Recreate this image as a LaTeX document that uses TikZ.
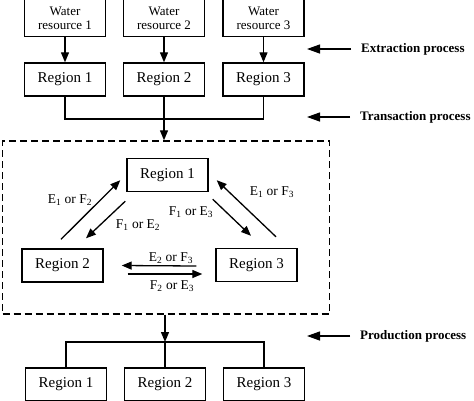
\documentclass[tikz,border=0pt]{standalone}
\usepackage{fontspec}
\setmainfont{Liberation Serif}
\usetikzlibrary{positioning}
\usetikzlibrary{arrows.meta}

\begin{document}
\begin{tikzpicture}[%
x=1pt, y=-1pt,
boks/.style={draw,line width=1.4pt,minimum width=81pt,minimum height=33pt,inner sep=1pt,font=\fontsize{15}{16}\selectfont},
kilde/.style={boks,minimum height=37pt,align=center,font=\fontsize{13}{14}\selectfont},
linje/.style={line width=1.3pt},
pil/.style={linje,-{Triangle[length=10pt,width=8pt]}},
prosesspil/.style={linje,-{Triangle[length=13pt,width=9pt]}},
etikett/.style={font=\fontsize{13.5}{14}\selectfont,inner sep=0pt},
prosess/.style={font=\bfseries\fontsize{13}{14}\selectfont,inner sep=0pt,anchor=west},
ramme/.style={draw,dash pattern=on 7pt off 4pt,line width=1.4pt,minimum width=327pt,minimum height=173pt}]
\useasboundingbox (0,0) rectangle (474,400);
\clip (0,0) rectangle (474,400);
\node [kilde] (w1) at (65,18)    {Water\\resource 1};
\node [kilde] (w2) at (164,18)   {Water\\resource 2};
\node [kilde] (w3) at (263.5,18) {Water\\resource 3};
\node [boks] (a1) at (65,79.5)    {Region 1};
\node [boks] (a2) at (164,79.5)   {Region 2};
\node [boks] (a3) at (263.5,79.5) {Region 3};
\draw [pil] (w1) -- (a1);
\draw [pil] (w2) -- (a2);
\draw [pil] (w3) -- (a3);
\coordinate (samle) at (164,119);
\node [ramme] (ramme) at (166,227.5) {};
\draw [linje] (a1) -- (a1 |- samle) -- (a3 |- samle) -- (a3);
\draw [pil]   (a2) -- (a2 |- ramme.north);
\node [boks] (m1) at (167.5,175) {Region 1};
\node [boks] (m2) at (62.5,265.5) {Region 2};
\node [boks] (m3) at (256.5,265) {Region 3};
\draw [pil] ([xshift=-1.5pt,yshift=9pt]m2.north)   -- ([xshift=-6pt,yshift=12pt]m1.south west);
\draw [pil] ([xshift=-1pt,yshift=-9pt]m1.south west) -- ([xshift=23.5pt,yshift=10pt]m2.north);
\draw [pil] ([xshift=4pt,yshift=-7pt]m1.south east)  -- ([xshift=-5.5pt,yshift=12pt]m3.north);
\draw [pil] ([xshift=19.5pt,yshift=11pt]m3.north)   -- ([xshift=8pt,yshift=12pt]m1.south east);
\draw [pil] ([xshift=-19pt,yshift=-1pt]m3.west)     -- ([xshift=18pt]m2.east);
\draw [pil] ([xshift=24pt,yshift=-8.5pt]m2.east)    -- ([xshift=-13pt,yshift=-9pt]m3.west);
\node [etikett] (e12) at (70,200)  {E\textsubscript{1} or F\textsubscript{2}};
\node [etikett] (f12) at (138,225) {F\textsubscript{1} or E\textsubscript{2}};
\node [etikett] (f13) at (191,212) {F\textsubscript{1} or E\textsubscript{3}};
\node [etikett] (e13) at (272,192) {E\textsubscript{1} or F\textsubscript{3}};
\node [etikett] (e23) at (171,258) {E\textsubscript{2} or F\textsubscript{3}};
\node [etikett] (f23) at (172,286) {F\textsubscript{2} or E\textsubscript{3}};
\coordinate (fordel) at (164,342);
\node [boks] (b1) at (66,384.5)  {Region 1};
\node [boks] (b2) at (165,384.5) {Region 2};
\node [boks] (b3) at (264,384.5) {Region 3};
\draw [pil]   (ramme.south -| b2) -- (b2 |- fordel);
\draw [linje] (b1) -- (b1 |- fordel) -- (b3 |- fordel) -- (b3);
\draw [linje] (b2 |- fordel) -- (b2);
\node [prosess] (ekstr) at (361,49)  {Extraction process};
\node [prosess] (trans) at (360,117) {Transaction process};
\node [prosess] (prod)  at (360,336) {Production process};
\draw [prosesspil] ([xshift=-10pt]ekstr.west) -- ([xshift=-54pt]ekstr.west);
\draw [prosesspil] ([xshift=-10pt]trans.west) -- ([xshift=-53pt]trans.west);
\draw [prosesspil] ([xshift=-10pt]prod.west)  -- ([xshift=-53pt]prod.west);
\end{tikzpicture}
\end{document}
